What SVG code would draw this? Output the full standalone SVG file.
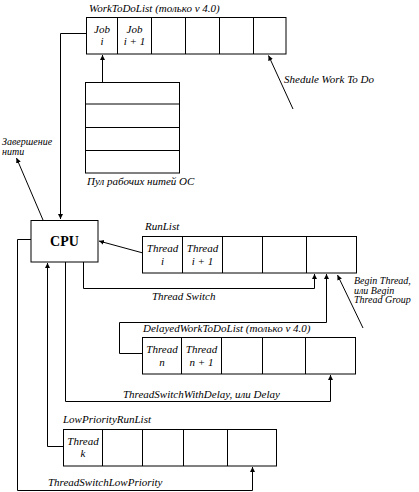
<svg xmlns="http://www.w3.org/2000/svg" width="419" height="492" viewBox="0 0 419 492">
<defs>
<style>
.b{fill:#fff;stroke:#000;stroke-width:1}
.l{fill:none;stroke:#000;stroke-width:1}
.t{font-family:"Liberation Serif","DejaVu Serif",serif;font-style:italic;font-size:11px;fill:#000}
.s{font-size:10px}
.c{text-anchor:middle}
.cpu{font-family:"Liberation Serif","DejaVu Serif",serif;font-weight:bold;font-size:14px;text-anchor:middle;fill:#000}
</style>
<marker id="a" markerWidth="6" markerHeight="6" refX="5" refY="3" orient="auto" markerUnits="userSpaceOnUse">
<path d="M0,0.5 L5,3 L0,5.5 Z" fill="#000"/>
</marker>
</defs>
<g id="connectors">
<path class="l" d="M86,33.5 H60.5 V219" marker-end="url(#a)"/>
<path class="l" d="M102.5,82 V55" marker-end="url(#a)"/>
<path class="l" d="M293,109 L268.5,55.5" marker-end="url(#a)"/>
<path class="l" d="M43,220 L16.5,158" marker-end="url(#a)"/>
<path class="l" d="M143,253 L99,241" marker-end="url(#a)"/>
<path class="l" d="M83.5,262 V288.5 H314.5 V274" marker-end="url(#a)"/>
<path class="l" d="M143,353.5 H119.5 V322.5 H326.5 V274" marker-end="url(#a)"/>
<path class="l" d="M363,328 L337.5,275" marker-end="url(#a)"/>
<path class="l" d="M65.5,262 V401.5 H330.5 V375" marker-end="url(#a)"/>
<path class="l" d="M63,446.5 H47.5 V263" marker-end="url(#a)"/>
<path class="l" d="M31,239.5 H17.5 V490.5 H252.5 V467" marker-end="url(#a)"/>
</g>
<g id="worktodolist">
<text class="t" x="89" y="11.5">WorkToDoList (только v 4.0)</text>
<rect class="b" x="86.5" y="17.5" width="199.5" height="36.5"/>
<path class="l" d="M117.5,17.5 V54 M151.5,17.5 V54 M185.5,17.5 V54 M219.5,17.5 V54 M253.5,17.5 V54"/>
<text class="t c" x="102" y="33">Job</text>
<text class="t c" x="102" y="45">i</text>
<text class="t c" x="134.5" y="33">Job</text>
<text class="t c" x="134.5" y="45">i + 1</text>
</g>
<g id="shedule">
<text class="t" x="284" y="83">Shedule Work To Do</text>
</g>
<g id="pool">
<rect class="b" x="85.5" y="82.5" width="94" height="90.5"/>
<path class="l" d="M85.5,104 H179.5 M85.5,127.5 H179.5 M85.5,150.5 H179.5"/>
<text class="t" x="87" y="185">Пул рабочих нитей ОС</text>
</g>
<g id="zavershenie">
<text class="t s" x="2" y="145">Завершение</text>
<text class="t s" x="2" y="155">нити</text>
</g>
<g id="cpu">
<rect class="b" x="31" y="220.5" width="67" height="41.5"/>
<text class="cpu" x="64.5" y="246">CPU</text>
</g>
<g id="runlist">
<text class="t" x="145" y="230">RunList</text>
<rect class="b" x="142.5" y="236.5" width="214" height="36.5"/>
<path class="l" d="M182.5,236.5 V273 M222.5,236.5 V273 M262.5,236.5 V273 M306.5,236.5 V273"/>
<text class="t c" x="162.5" y="252">Thread</text>
<text class="t c" x="162.5" y="265">i</text>
<text class="t c" x="202.5" y="252">Thread</text>
<text class="t c" x="202.5" y="265">i + 1</text>
<text class="t" x="152" y="300">Thread Switch</text>
</g>
<g id="beginthread">
<text class="t s" x="354" y="284">Begin Thread,</text>
<text class="t s" x="354" y="293.5">или Begin</text>
<text class="t s" x="354" y="303">Thread Group</text>
</g>
<g id="delayed">
<text class="t" x="143" y="331.5">DelayedWorkToDoList (только v 4.0)</text>
<rect class="b" x="142.5" y="337.5" width="213" height="36.5"/>
<path class="l" d="M181.5,337.5 V374 M221.5,337.5 V374 M262.5,337.5 V374 M305.5,337.5 V374"/>
<text class="t c" x="162" y="353">Thread</text>
<text class="t c" x="162" y="366">n</text>
<text class="t c" x="201.5" y="353">Thread</text>
<text class="t c" x="201.5" y="366">n + 1</text>
<text class="t" x="123" y="398">ThreadSwitchWithDelay, или Delay</text>
</g>
<g id="lowpriority">
<text class="t" x="63" y="423">LowPriorityRunList</text>
<rect class="b" x="63.5" y="429.5" width="213" height="36.5"/>
<path class="l" d="M102.5,429.5 V466 M142.5,429.5 V466 M183.5,429.5 V466 M227.5,429.5 V466"/>
<text class="t c" x="83" y="445">Thread</text>
<text class="t c" x="83" y="457">k</text>
<text class="t" x="48" y="486">ThreadSwitchLowPriority</text>
</g>
</svg>
